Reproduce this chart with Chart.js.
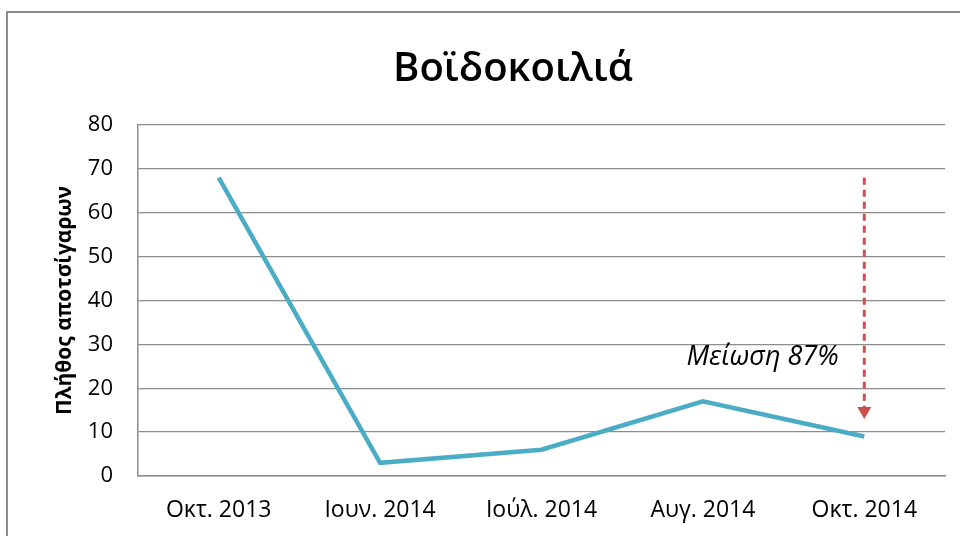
<!DOCTYPE html>
<html>
<head>
<meta charset="utf-8">
<script src="https://cdn.jsdelivr.net/npm/chart.js@4"></script>
<style>
  body { margin: 0; background: #fff; }
  #frame { position: absolute; left: 6px; top: 11px; width: 1000px; height: 600px; border: 2px solid #8c8c8c; }
  #wrap { position: absolute; left: 0; top: 0; width: 960px; height: 536px; }
</style>
</head>
<body>
<div id="frame"></div>
<div id="wrap"><canvas id="cigs" width="960" height="536"></canvas></div>
<script>
const chartTitle = 'Βοϊδοκοιλιά';
const months = ['Οκτ. 2013', 'Ιουν. 2014', 'Ιούλ. 2014', 'Αυγ. 2014', 'Οκτ. 2014'];
const butts = [68, 3, 6, 17, 9];
const yMin = 0, yMax = 80, yStep = 10;

// arrow + note (category index, value)
const arrowAt = 4;
const arrowFrom = 68;
const arrowTo = 13;
const noteText = 'Μείωση 87%';
const noteAt = [3.37, 27];

// title sits a bit right of the canvas centre in the original
const titleBox = {
  id: 'titleBox',
  afterDraw(chart) {
    const { ctx } = chart;
    ctx.save();
    ctx.font = '600 40px "Open Sans"';
    ctx.fillStyle = '#000';
    ctx.textAlign = 'center';
    ctx.textBaseline = 'middle';
    ctx.fillText(chartTitle, 513, 70);
    ctx.restore();
  }
};

const reductionNote = {
  id: 'reductionNote',
  afterDatasetsDraw(chart) {
    const { ctx, scales: { x, y } } = chart;
    const ax = x.getPixelForValue(arrowAt);
    const y1 = y.getPixelForValue(arrowFrom);
    const y2 = y.getPixelForValue(arrowTo);
    ctx.save();
    ctx.strokeStyle = '#c9504d';
    ctx.fillStyle = '#c9504d';
    ctx.lineWidth = 3;
    ctx.setLineDash([7, 5]);
    ctx.beginPath();
    ctx.moveTo(ax, y1);
    ctx.lineTo(ax, y2 - 11);
    ctx.stroke();
    ctx.setLineDash([]);
    ctx.beginPath();
    ctx.moveTo(ax - 7, y2 - 12);
    ctx.lineTo(ax + 7, y2 - 12);
    ctx.lineTo(ax, y2);
    ctx.closePath();
    ctx.fill();

    const nx = x.getPixelForValue(0) + (x.getPixelForValue(1) - x.getPixelForValue(0)) * noteAt[0];
    ctx.font = 'italic 27px "Open Sans"';
    ctx.fillStyle = '#000';
    ctx.textAlign = 'center';
    ctx.textBaseline = 'middle';
    ctx.fillText(noteText, nx, y.getPixelForValue(noteAt[1]));
    ctx.restore();
  }
};

new Chart(document.getElementById('cigs'), {
  type: 'line',
  data: {
    labels: months,
    datasets: [{
      data: butts,
      borderColor: '#4bacc6',
      borderWidth: 4.5,
      pointRadius: 0,
      tension: 0,
      fill: false
    }]
  },
  options: {
    responsive: false,
    animation: false,
    layout: { padding: { top: 125, left: 0, right: 15, bottom: 0 } },
    plugins: {
      legend: { display: false },
      tooltip: { enabled: false },
      title: { display: false }
    },
    scales: {
      x: {
        offset: true,
        grid: { display: false, drawTicks: false },
        border: { color: '#8c8c8c', width: 1.5 },
        ticks: { color: '#000', padding: 21, maxRotation: 0, font: { family: 'Open Sans', size: 23 } },
        afterFit(scale) { scale.height = 60; }
      },
      y: {
        min: yMin,
        max: yMax,
        grid: { color: '#8c8c8c', lineWidth: 1.3, drawTicks: false },
        border: { color: '#8c8c8c', width: 1.5 },
        ticks: { stepSize: yStep, color: '#000', padding: 25, font: { family: 'Open Sans', size: 22 } },
        title: {
          display: true,
          text: 'Πλήθος αποτσίγαρων',
          color: '#000',
          font: { family: 'Open Sans', size: 21, weight: 'bold' },
          padding: { top: 52, bottom: 0 }
        },
        afterFit(scale) { scale.width = 138; }
      }
    }
  },
  plugins: [reductionNote, titleBox]
});
</script>
</body>
</html>
